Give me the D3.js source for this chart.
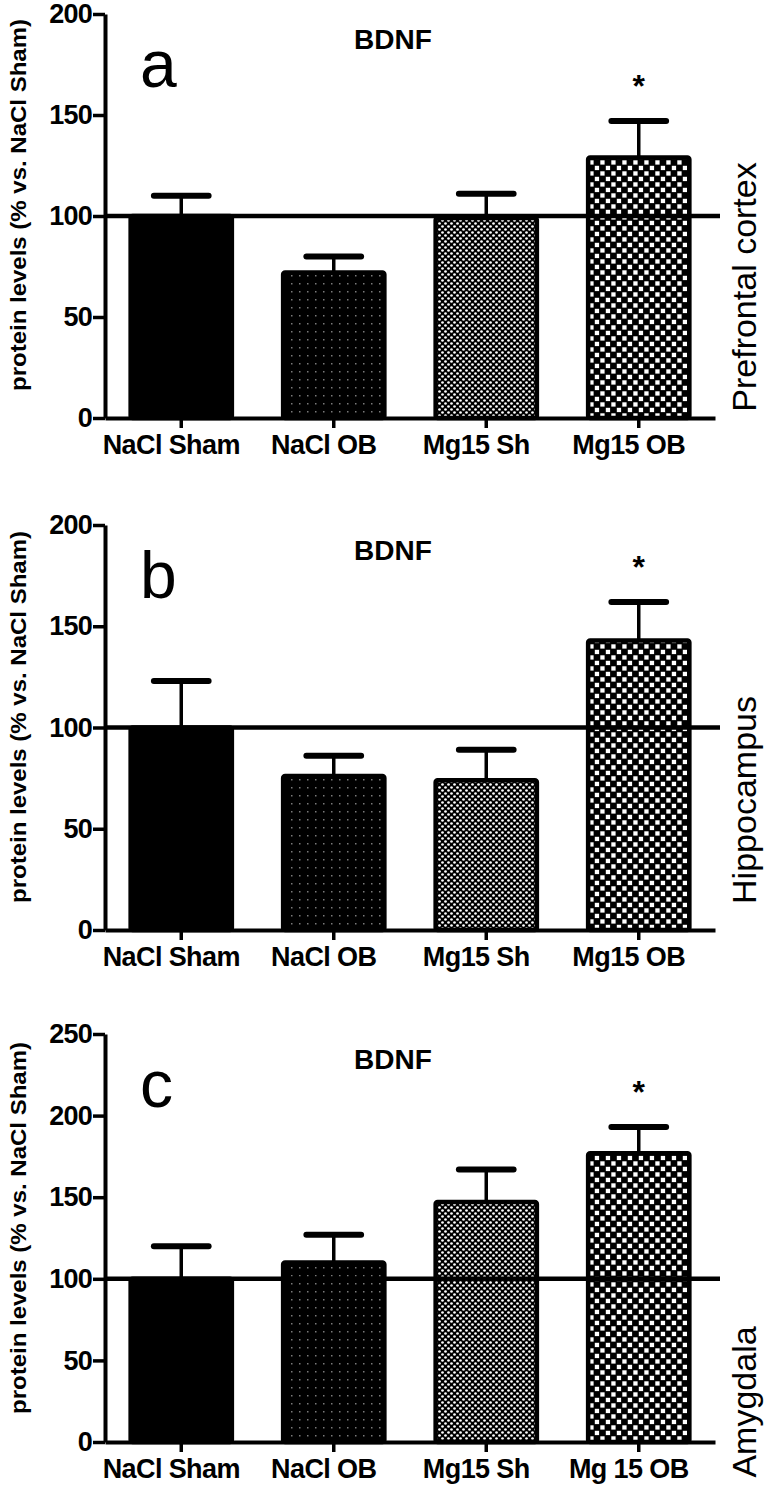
<!DOCTYPE html>
<html>
<head>
<meta charset="utf-8">
<script src="https://cdn.jsdelivr.net/npm/d3@7"></script>
<style>
body { margin: 0; background: #fff; }
svg { display: block; }
text { font-family: "Liberation Sans", Arial, sans-serif; }
</style>
</head>
<body>
<svg id="chart" width="767" height="1492"></svg>
<script>
// group names (panel c spells the last one differently)
var groupsAB = ["NaCl Sham", "NaCl OB", "Mg15 Sh", "Mg15 OB"];
var groupsC = ["NaCl Sham", "NaCl OB", "Mg15 Sh", "Mg 15 OB"];

// a - prefrontal cortex
var meanA = [100, 72, 99, 129];
var semA = [10, 8, 12, 18];
// b - hippocampus
var meanB = [100, 76, 74, 143];
var semB = [23, 10, 15, 19];
// c - amygdala
var meanC = [100, 110, 147, 177];
var semC = [20, 17, 20, 16];

var ticksAB = [0, 50, 100, 150, 200];
var ticksC = [0, 50, 100, 150, 200, 250];

var starred = [false, false, false, true];

var svg = d3.select("#chart");
var defs = svg.append("defs");

// fill patterns, one per group
var p1 = defs.append("pattern").attr("id", "pSparse")
	.attr("patternUnits", "userSpaceOnUse").attr("width", 8).attr("height", 8);
p1.append("rect").attr("width", 8).attr("height", 8).attr("fill", "#000");
p1.append("rect").attr("x", 3).attr("y", 3).attr("width", 1.5).attr("height", 1.5).attr("fill", "#7a7a7a");

var p2 = defs.append("pattern").attr("id", "pFine")
	.attr("patternUnits", "userSpaceOnUse").attr("width", 6).attr("height", 6);
p2.append("rect").attr("width", 6).attr("height", 6).attr("fill", "#000");
p2.append("circle").attr("cx", 1.5).attr("cy", 1.5).attr("r", 1.35).attr("fill", "#fff");
p2.append("circle").attr("cx", 4.5).attr("cy", 4.5).attr("r", 1.35).attr("fill", "#fff");

var p3 = defs.append("pattern").attr("id", "pCheck")
	.attr("patternUnits", "userSpaceOnUse").attr("width", 11).attr("height", 11);
p3.append("rect").attr("width", 11).attr("height", 11).attr("fill", "#000");
p3.append("rect").attr("x", 0.8).attr("y", 0.8).attr("width", 4.3).attr("height", 4.3).attr("fill", "#fff");
p3.append("rect").attr("x", 6.3).attr("y", 6.3).attr("width", 4.3).attr("height", 4.3).attr("fill", "#fff");

var fills = ["#000", "url(#pSparse)", "url(#pFine)", "url(#pCheck)"];

var left = 105, right = 715;

function drawPanel(top, bottom, cats, means, sems, ticks, letter, region, regionY, labelY) {
	var g = svg.append("g");

	var x = d3.scaleBand()
		.domain(cats)
		.range([left, right])
		.paddingInner(0.31)
		.paddingOuter(0.155);

	var y = d3.scaleLinear()
		.domain([0, d3.max(ticks)])
		.range([bottom, top]);

	// bars
	g.selectAll("rect.bar")
	.data(cats)
	.enter().append("rect")
	.attr("class", "bar")
	.attr("x", function (d) { return x(d) + 2; })
	.attr("width", x.bandwidth() - 4)
	.attr("y", function (d, i) { return y(means[i]); })
	.attr("height", function (d, i) { return bottom - y(means[i]); })
	.attr("rx", 2)
	.attr("fill", function (d, i) { return fills[i]; })
	.attr("stroke", "#000")
	.attr("stroke-width", 4.5);

	// upper error bars
	var cw = x.bandwidth() * 0.52;
	g.selectAll("line.stem")
	.data(cats)
	.enter().append("line")
	.attr("x1", function (d) { return x(d) + x.bandwidth() / 2; })
	.attr("x2", function (d) { return x(d) + x.bandwidth() / 2; })
	.attr("y1", function (d, i) { return y(means[i]); })
	.attr("y2", function (d, i) { return y(means[i] + sems[i]); })
	.attr("stroke", "#000")
	.attr("stroke-width", 3.5);
	g.selectAll("line.cap")
	.data(cats)
	.enter().append("line")
	.attr("x1", function (d) { return x(d) + x.bandwidth() / 2 - cw / 2; })
	.attr("x2", function (d) { return x(d) + x.bandwidth() / 2 + cw / 2; })
	.attr("y1", function (d, i) { return y(means[i] + sems[i]); })
	.attr("y2", function (d, i) { return y(means[i] + sems[i]); })
	.attr("stroke", "#000")
	.attr("stroke-width", 6)
	.attr("stroke-linecap", "round");

	// significance stars
	g.selectAll("text.star")
	.data(cats.filter(function (d, i) { return starred[i]; }))
	.enter().append("text")
	.attr("x", function (d) { return x(d) + x.bandwidth() / 2; })
	.attr("y", function (d) { var i = cats.indexOf(d); return y(means[i] + sems[i]) - 24; })
	.attr("text-anchor", "middle")
	.attr("font-weight", "bold")
	.attr("font-size", 32)
	.text("*");

	// 100% reference line
	g.append("line")
	.attr("x1", left).attr("x2", right + 5)
	.attr("y1", y(100)).attr("y2", y(100))
	.attr("stroke", "#000")
	.attr("stroke-width", 4.5);

	// axes
	var yAxis = d3.axisLeft(y).tickValues(ticks).tickSize(12).tickSizeOuter(0).tickPadding(1);
	var ya = g.append("g").attr("transform", "translate(" + left + ",0)").call(yAxis);
	var xAxis = d3.axisBottom(x).tickSize(10).tickSizeOuter(0).tickPadding(7);
	var xa = g.append("g").attr("transform", "translate(0," + bottom + ")").call(xAxis);

	[ya, xa].forEach(function (a) {
		a.select(".domain").attr("stroke", "#000").attr("stroke-width", 4).attr("fill", "none");
		a.selectAll(".tick line").attr("stroke", "#000").attr("stroke-width", 3.5);
		a.selectAll("text").attr("fill", "#000").attr("font-weight", "bold")
		.attr("font-family", "Liberation Sans, Arial, sans-serif");
	});
	ya.selectAll("text").attr("font-size", 27).attr("letter-spacing", -0.8);
	xa.selectAll("text").attr("font-size", 27).attr("letter-spacing", -0.6).attr("dx", -10);

	// titles and labels
	g.append("text")
	.attr("x", 393).attr("y", top + 35)
	.attr("text-anchor", "middle")
	.attr("font-weight", "bold")
	.attr("font-size", 28)
	.text("BDNF");

	g.append("text")
	.attr("x", 140).attr("y", top + 73)
	.attr("font-size", 66)
	.text(letter);

	g.append("text")
	.attr("transform", "translate(26," + labelY + ") rotate(-90)")
	.attr("text-anchor", "middle")
	.attr("font-weight", "bold")
	.attr("font-size", 22)
	.attr("textLength", 372)
	.attr("lengthAdjust", "spacingAndGlyphs")
	.text("protein levels (% vs. NaCl Sham)");

	g.append("text")
	.attr("transform", "translate(756," + regionY + ") rotate(-90)")
	.attr("text-anchor", "middle")
	.attr("font-size", 34)
	.text(region);
}

drawPanel(14, 418, groupsAB, meanA, semA, ticksAB, "a", "Prefrontal cortex", 287, 205);
drawPanel(525, 930, groupsAB, meanB, semB, ticksAB, "b", "Hippocampus", 800, 717);
drawPanel(1034, 1442, groupsC, meanC, semC, ticksC, "c", "Amygdala", 1402, 1228);
</script>
</body>
</html>
